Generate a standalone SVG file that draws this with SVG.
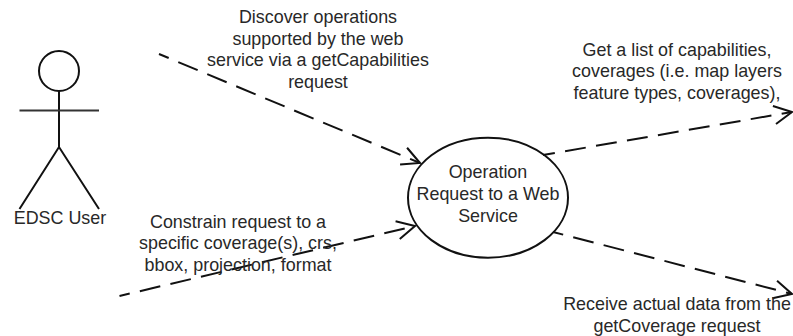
<svg xmlns="http://www.w3.org/2000/svg" width="793" height="336" viewBox="0 0 793 336">
<style>
text{font-family:"Liberation Sans",Arial,sans-serif;font-size:17.9px;fill:#282828;text-anchor:middle}
.s{fill:none;stroke:#111;stroke-width:2}
.c{fill:none;stroke:#111;stroke-width:2;stroke-dasharray:21 10.4}
</style>
<defs>
<marker id="a" markerUnits="userSpaceOnUse" viewBox="-20 -11 22 22" refX="0" refY="0" markerWidth="22" markerHeight="22" orient="auto" overflow="visible">
<path d="M-17.8 -9.1L0 0L-17.8 9.1" fill="none" stroke="#111" stroke-width="2"/>
</marker>
</defs>
<rect width="793" height="336" fill="#fff"/>
<g id="connectors">
<path class="c" stroke-dashoffset="10.500" marker-end="url(#a)" d="M159 54L420 163"/>
<path class="c" stroke-dashoffset="10.500" marker-end="url(#a)" d="M119.500 296L415 226"/>
<path class="c" stroke-dashoffset="9" marker-end="url(#a)" d="M543 155L792 112"/>
<path class="c" stroke-dashoffset="10.500" marker-end="url(#a)" d="M553 232L792 294"/>
</g>
<g id="actor">
<circle class="s" cx="59" cy="71" r="20"/>
<path class="s" d="M59 91V147M19.500 209L59 147L99 209"/>
<path d="M19.500 110.500H99" fill="none" stroke="#333" stroke-width="2"/>
<text x="60" y="224">EDSC User</text>
</g>
<g id="operation">
<ellipse class="s" cx="488" cy="197.700" rx="80" ry="60" fill="#fff"/>
<text x="488" y="178">Operation</text>
<text x="488" y="200">Request to a Web</text>
<text x="488" y="222">Service</text>
</g>
<g id="label-discover">
<text x="318" y="23">Discover operations</text>
<text x="318" y="44.700">supported by the web</text>
<text x="318" y="66">service via a getCapabilities</text>
<text x="318" y="88">request</text>
</g>
<g id="label-capabilities">
<text x="677" y="56">Get a list of capabilities,</text>
<text x="677" y="77">coverages (i.e. map layers</text>
<text x="677" y="99">feature types, coverages),</text>
</g>
<g id="label-constrain">
<text x="238" y="228">Constrain request to a</text>
<text x="238" y="249">specific coverage(s), crs,</text>
<text x="238" y="271">bbox, projection, format</text>
</g>
<g id="label-receive">
<text x="677" y="310">Receive actual data from the</text>
<text x="677" y="332">getCoverage request</text>
</g>
</svg>
